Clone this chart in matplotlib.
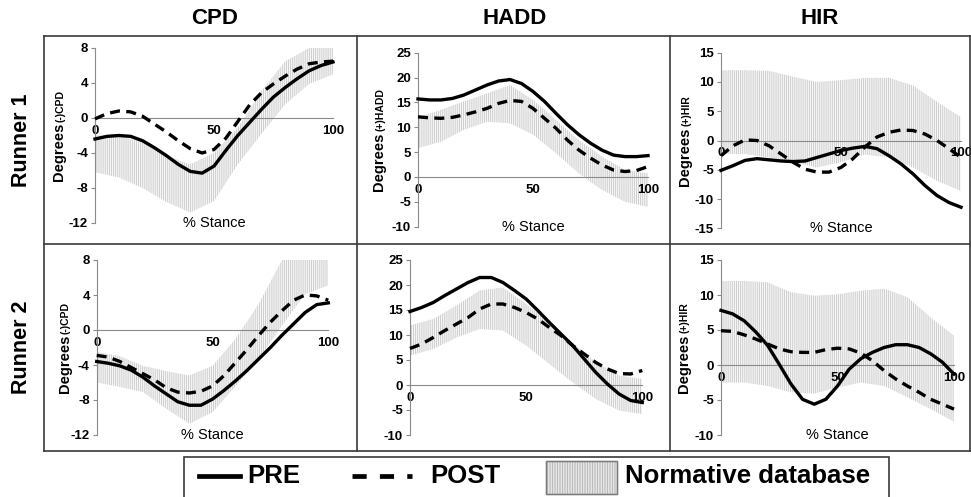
import numpy as np
import matplotlib
matplotlib.use('Agg')
import matplotlib.pyplot as plt
from matplotlib.lines import Line2D
from matplotlib.patches import Rectangle
from matplotlib import font_manager as fm

# ---------------- data ----------------
stance = [0, 5, 10, 15, 20, 25, 30, 35, 40, 45, 50, 55, 60, 65, 70, 75, 80, 85, 90, 95, 100]
band_x = [0, 10, 20, 30, 40, 50, 60, 70, 80, 90, 100]

cpd_r1_pre = [-2.4, -2.1, -2.0, -2.1, -2.6, -3.4, -4.3, -5.3, -6.1, -6.3, -5.5, -3.7, -2.0, -0.5, 1.0, 2.4, 3.5, 4.5, 5.4, 6.0, 6.4]
cpd_r1_post = [-0.1, 0.5, 0.8, 0.7, 0.2, -0.7, -1.6, -2.6, -3.5, -4.0, -3.6, -2.3, -0.4, 1.5, 2.9, 3.9, 4.8, 5.6, 6.2, 6.4, 6.5]
cpd_r1_up = [-2.0, -2.0, -2.8, -4.3, -5.3, -4.0, -1.1, 3.1, 6.5, 8.0, 8.0]
cpd_r1_lo = [-6.2, -6.8, -8.0, -9.6, -10.8, -9.5, -5.3, -1.8, 1.6, 3.9, 5.0]

hadd_r1_pre = [15.7, 15.5, 15.5, 15.8, 16.5, 17.5, 18.5, 19.3, 19.6, 18.8, 17.2, 15.2, 12.8, 10.5, 8.5, 6.8, 5.4, 4.4, 4.1, 4.1, 4.3]
hadd_r1_post = [12.1, 11.9, 11.8, 12.0, 12.5, 13.1, 13.8, 14.8, 15.4, 15.2, 13.8, 11.8, 9.8, 7.4, 5.4, 3.8, 2.4, 1.4, 1.1, 1.3, 2.1]
hadd_r1_up = [12.0, 13.5, 15.2, 16.8, 18.5, 15.5, 11.5, 7.4, 4.1, 1.4, 0.7]
hadd_r1_lo = [5.8, 7.1, 9.5, 11.1, 10.8, 8.5, 4.8, 0.7, -2.6, -5.0, -6.0]

hir_r1_pre = [-5.1, -4.3, -3.4, -3.1, -3.3, -3.5, -3.6, -3.5, -2.9, -2.3, -1.7, -1.3, -1.0, -1.4, -2.6, -4.0, -5.7, -7.7, -9.4, -10.6, -11.4]
hir_r1_post = [-2.6, -0.9, 0.1, 0.0, -0.9, -2.3, -3.7, -4.9, -5.4, -5.4, -4.6, -3.1, -1.1, 0.6, 1.4, 1.8, 1.7, 1.1, 0.0, -1.4, -2.9]
hir_r1_up = [12.0, 12.0, 11.9, 10.9, 10.0, 10.3, 10.7, 10.7, 9.4, 6.6, 4.0]
hir_r1_lo = [-2.3, -2.3, -2.9, -3.7, -4.6, -3.7, -2.4, -2.9, -4.6, -6.9, -8.6]

cpd_r2_pre = [-3.6, -3.8, -4.1, -4.6, -5.4, -6.4, -7.3, -8.2, -8.6, -8.6, -7.9, -6.9, -5.8, -4.6, -3.3, -2.0, -0.6, 0.7, 2.0, 2.9, 3.1]
cpd_r2_post = [-2.9, -3.1, -3.6, -4.3, -5.0, -5.7, -6.6, -7.1, -7.2, -7.0, -6.4, -5.2, -3.7, -2.2, -0.6, 0.9, 2.2, 3.4, 4.0, 3.9, 3.4]
cpd_r2_up = [-2.5, -3.0, -4.1, -4.7, -5.2, -4.1, -1.0, 3.0, 8.0, 8.0, 8.0]
cpd_r2_lo = [-6.0, -6.5, -7.1, -9.0, -10.7, -9.4, -6.4, -3.3, 0.5, 4.1, 5.1]

hadd_r2_pre = [14.7, 15.5, 16.5, 17.9, 19.2, 20.5, 21.5, 21.5, 20.5, 18.9, 17.2, 14.9, 12.5, 10.2, 7.9, 5.2, 2.5, 0.2, -1.8, -3.1, -3.5]
hadd_r2_post = [7.3, 8.2, 9.5, 10.9, 12.2, 13.5, 15.2, 16.2, 16.2, 15.5, 14.5, 13.2, 11.5, 9.9, 7.9, 6.2, 4.5, 3.2, 2.3, 2.2, 2.9]
hadd_r2_up = [11.9, 13.2, 15.9, 18.9, 19.5, 16.2, 12.5, 8.5, 4.5, 1.9, 1.2]
hadd_r2_lo = [5.9, 7.2, 9.5, 11.2, 10.9, 7.9, 4.2, 0.5, -2.8, -5.1, -5.8]

hir_r2_pre = [7.8, 7.3, 6.3, 4.7, 2.8, 0.1, -2.7, -4.9, -5.6, -4.9, -3.0, -0.6, 0.9, 1.8, 2.5, 2.9, 2.9, 2.5, 1.6, 0.4, -1.3]
hir_r2_post = [4.9, 4.8, 4.3, 3.7, 3.0, 2.3, 1.9, 1.8, 1.8, 2.2, 2.4, 2.3, 1.7, 0.6, -0.8, -2.0, -3.0, -3.9, -4.9, -5.6, -6.3]
hir_r2_up = [12.0, 12.0, 11.8, 10.4, 9.9, 10.1, 10.6, 10.9, 9.7, 6.8, 4.2]
hir_r2_lo = [-2.5, -2.5, -3.0, -3.9, -4.1, -3.2, -2.5, -3.0, -4.6, -6.3, -8.1]

col_titles = ['CPD', 'HADD', 'HIR']
row_titles = ['Runner 1', 'Runner 2']
legend_labels = ['PRE', 'POST', 'Normative database']
x_ticks = [0, 50, 100]
cpd_ticks = [-12, -8, -4, 0, 4, 8]
hadd_ticks = [-10, -5, 0, 5, 10, 15, 20, 25]
hir_r1_ticks = [-15, -10, -5, 0, 5, 10, 15]
hir_r2_ticks = [-10, -5, 0, 5, 10, 15]

# ---------------- style ----------------
names = {f.name for f in fm.fontManager.ttflist}
NARROW = 'Liberation Sans Narrow' in names
BASE = ['Liberation Sans', 'DejaVu Sans']
COND = (['Liberation Sans Narrow'] + BASE) if NARROW else BASE
plt.rcParams['font.family'] = BASE
plt.rcParams['axes.unicode_minus'] = False
plt.rcParams['hatch.linewidth'] = 0.6

W, H = 971, 497
fig = plt.figure(figsize=(W / 100, H / 100), dpi=100)


def fx(px):
    return px / W


def fy(py):
    return 1 - py / H


def rect(x0, x1, yt, yb):
    return [fx(x0), fy(yb), (x1 - x0) / W, (yb - yt) / H]


AX_GRAY = '#8a8a8a'
panels = [
    dict(r=rect(95, 333, 48, 223), pre=cpd_r1_pre, post=cpd_r1_post, up=cpd_r1_up, lo=cpd_r1_lo,
         ticks=cpd_ticks, ylab='(-)CPD', yoff=32, xlab=True),
    dict(r=rect(418, 648, 52.7, 226.7), pre=hadd_r1_pre, post=hadd_r1_post, up=hadd_r1_up, lo=hadd_r1_lo,
         ticks=hadd_ticks, ylab='(+)HADD', yoff=35, xlab=True),
    dict(r=rect(721, 961, 52.7, 228.3), pre=hir_r1_pre, post=hir_r1_post, up=hir_r1_up, lo=hir_r1_lo,
         ticks=hir_r1_ticks, ylab='(+)HIR', yoff=32, xlab=True),
    dict(r=rect(96.7, 328.3, 260, 435), pre=cpd_r2_pre, post=cpd_r2_post, up=cpd_r2_up, lo=cpd_r2_lo,
         ticks=cpd_ticks, ylab='(-)CPD', yoff=28, xlab=True),
    dict(r=rect(410, 642.3, 260, 435), pre=hadd_r2_pre, post=hadd_r2_post, up=hadd_r2_up, lo=hadd_r2_lo,
         ticks=hadd_ticks, ylab=None, yoff=0, xlab=False),
    dict(r=rect(721, 954, 260, 435), pre=hir_r2_pre, post=hir_r2_post, up=hir_r2_up, lo=hir_r2_lo,
         ticks=hir_r2_ticks, ylab='(+)HIR', yoff=33, xlab=True),
]

axes = []
for p in panels:
    ax = fig.add_axes(p['r'])
    ax.patch.set_alpha(0)
    ax.fill_between(band_x, p['lo'], p['up'], facecolor='#f7f7f7', edgecolor='#c8c8c8',
                    hatch='|' * 8, linewidth=0, zorder=1)
    ax.plot(stance, p['pre'], color='black', lw=2.4, zorder=4, clip_on=False,
            solid_joinstyle='round')
    ax.plot(stance, p['post'], color='black', lw=2.4, ls=(0, (3.0, 1.9)), zorder=4, clip_on=False)
    ax.set_xlim(0, 100)
    ax.set_ylim(p['ticks'][0], p['ticks'][-1])
    ax.set_yticks(p['ticks'])
    ax.set_xticks(x_ticks)
    for s in ['top', 'right']:
        ax.spines[s].set_visible(False)
    ax.spines['left'].set_color(AX_GRAY)
    ax.spines['left'].set_linewidth(0.8)
    ax.spines['bottom'].set_position(('data', 0))
    ax.spines['bottom'].set_color(AX_GRAY)
    ax.spines['bottom'].set_linewidth(0.8)
    ax.tick_params(axis='y', direction='out', length=3, width=0.8, color=AX_GRAY, pad=2, labelsize=9.5)
    ax.tick_params(axis='x', length=0, pad=5, labelsize=9.5)
    for lab in ax.get_xticklabels() + ax.get_yticklabels():
        lab.set_fontweight('bold')
    if p['xlab']:
        ax.text(0.5, 0.0, '% Stance', transform=ax.transAxes, ha='center', va='center', fontsize=10.5)
    axes.append(ax)

# titles
for t, xc in zip(col_titles, [215, 515, 820]):
    fig.text(fx(xc), fy(18), t, ha='center', va='center', fontsize=16, fontweight='bold')
for t, yc in zip(row_titles, [140, 347]):
    fig.text(fx(22), fy(yc), t, ha='center', va='center', rotation=90, fontsize=15.5,
             fontweight='bold', family=COND)

# frame
FRAME = '#3a3a3a'
for (x0, y0, x1, y1) in [(44, 36, 970, 36), (44, 243.5, 970, 243.5), (44, 451, 970, 451),
                         (44, 36, 44, 451), (357, 36, 357, 451), (670, 36, 670, 451),
                         (970, 36, 970, 451)]:
    fig.add_artist(Line2D([fx(x0), fx(x1)], [fy(y0), fy(y1)], color=FRAME, lw=1.2))

# y labels
fig.canvas.draw()
rend = fig.canvas.get_renderer()
for p, ax in zip(panels, axes):
    if not p['ylab']:
        continue
    pos = ax.get_position()
    xb = pos.x0 * W - p['yoff']
    yc = (1 - (pos.y0 + pos.y1) / 2) * H
    t1 = fig.text(0, 0, 'Degrees', rotation=90, rotation_mode='anchor', ha='left', va='baseline',
                  fontsize=10.5, fontweight='bold')
    t2 = fig.text(0, 0, p['ylab'], rotation=90, rotation_mode='anchor', ha='left', va='baseline',
                  fontsize=7.5, fontweight='bold')
    h1 = t1.get_window_extent(rend).height
    h2 = t2.get_window_extent(rend).height
    start = yc + (h1 + h2 + 1) / 2
    t1.set_position((fx(xb), fy(start)))
    t2.set_position((fx(xb), fy(start - h1 - 1)))

# legend
fig.add_artist(Rectangle((fx(184), fy(499)), (889 - 184) / W, (499 - 457) / H, facecolor='white',
                         edgecolor=FRAME, lw=1.2, transform=fig.transFigure))
ly = 476
fig.add_artist(Line2D([fx(199), fx(240)], [fy(ly), fy(ly)], color='black', lw=3.4))
fig.add_artist(Line2D([fx(352), fx(412)], [fy(ly), fy(ly)], color='black', lw=3.4, ls=(0, (3.0, 2.8))))
fig.add_artist(Rectangle((fx(546), fy(494)), (617 - 546) / W, (494 - 461) / H, facecolor='#f7f7f7',
                         edgecolor='#b0b0b0', lw=1.0, hatch='|' * 10, transform=fig.transFigure))
fig.add_artist(Rectangle((fx(546), fy(494)), (617 - 546) / W, (494 - 461) / H, facecolor='none',
                         edgecolor='#7a7a7a', lw=1.0, transform=fig.transFigure))
for t, x in zip(legend_labels, [247, 430, 625]):
    fig.text(fx(x), fy(ly), t, ha='left', va='center', fontsize=18.5, fontweight='bold', family=COND)

fig.savefig('out.png', dpi=100)
